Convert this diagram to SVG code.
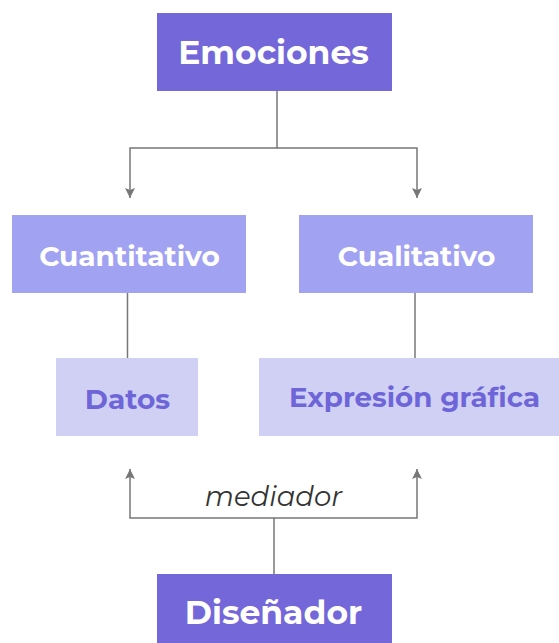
<svg xmlns="http://www.w3.org/2000/svg" width="559" height="643" viewBox="0 0 559 643">
<style>
.t{font-family:"Montserrat","Open Sans","Liberation Sans",sans-serif;font-weight:700;text-anchor:middle;dominant-baseline:central}
.w{fill:#ffffff}
.p{fill:#6E66D8}
.c{fill:none;stroke:#777777;stroke-width:1.5}
</style>
<defs>
<marker id="ah" viewBox="0 0 10 10" refX="10" refY="5" markerWidth="11" markerHeight="10" markerUnits="userSpaceOnUse" orient="auto">
<path d="M0,0 L10,5 L0,10 L2,5 Z" fill="#777777"/>
</marker>
</defs>
<g id="connectors">
<path class="c" d="M277,91 V148 H130 V198" marker-end="url(#ah)"/>
<path class="c" d="M277,148 H417 V198" marker-end="url(#ah)"/>
<path class="c" d="M127.5,293 V358"/>
<path class="c" d="M415,293 V358"/>
<path class="c" d="M274,574 V518 H130 V469" marker-end="url(#ah)"/>
<path class="c" d="M274,518 H417 V469" marker-end="url(#ah)"/>
<text x="273.5" y="496" font-family="Montserrat,'Open Sans','Liberation Sans',sans-serif" font-style="italic" font-size="27.5" fill="#333333" text-anchor="middle" dominant-baseline="central">mediador</text>
</g>
<g id="emociones">
<rect x="157" y="13" width="235" height="78" fill="#7367D9"/>
<text class="t w" x="273.5" y="52" font-size="33">Emociones</text>
</g>
<g id="cuantitativo">
<rect x="12" y="215" width="234" height="78" fill="#A2A2F2"/>
<text class="t w" x="129.5" y="256" font-size="28">Cuantitativo</text>
</g>
<g id="cualitativo">
<rect x="299" y="215" width="234" height="78" fill="#A2A2F2"/>
<text class="t w" x="416.5" y="256" font-size="28">Cualitativo</text>
</g>
<g id="datos">
<rect x="56" y="358" width="142" height="78" fill="#D0D0F5"/>
<text class="t p" x="127.5" y="399" font-size="28">Datos</text>
</g>
<g id="expresion">
<rect x="259" y="358" width="300" height="78" fill="#D0D0F5"/>
<text class="t p" x="414.5" y="397" font-size="27.7">Expresión gráfica</text>
</g>
<g id="disenador">
<rect x="157" y="574" width="235" height="69" fill="#7367D9"/>
<text class="t w" x="273.5" y="612" font-size="33">Diseñador</text>
</g>
</svg>
